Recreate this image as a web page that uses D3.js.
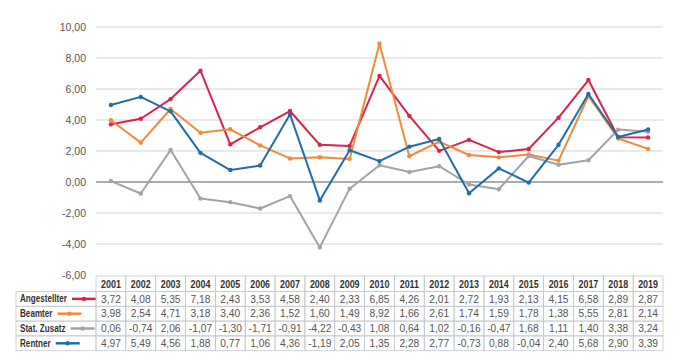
<!DOCTYPE html>
<html><head><meta charset="utf-8">
<script src="https://cdn.jsdelivr.net/npm/d3@7"></script>
<style>body{margin:0;background:#fff}</style>
</head><body><svg id="c" width="700" height="364"></svg>
<script>
const years = ["2001","2002","2003","2004","2005","2006","2007","2008","2009","2010","2011","2012","2013","2014","2015","2016","2017","2018","2019"];
const angestellter = [3.72,4.08,5.35,7.18,2.43,3.53,4.58,2.40,2.33,6.85,4.26,2.01,2.72,1.93,2.13,4.15,6.58,2.89,2.87];
const beamter = [3.98,2.54,4.71,3.18,3.40,2.36,1.52,1.60,1.49,8.92,1.66,2.61,1.74,1.59,1.78,1.38,5.55,2.81,2.14];
const statZusatz = [0.06,-0.74,2.06,-1.07,-1.30,-1.71,-0.91,-4.22,-0.43,1.08,0.64,1.02,-0.16,-0.47,1.68,1.11,1.40,3.38,3.24];
const rentner = [4.97,5.49,4.56,1.88,0.77,1.06,4.36,-1.19,2.05,1.35,2.28,2.77,-0.73,0.88,-0.04,2.40,5.68,2.90,3.39];
const seriesNames = ["Angestellter","Beamter","Stat. Zusatz","Rentner"];
const seriesColors = ["#d8234a","#f08a3a","#9fa4ab","#1f6ea8"];
const yTicks = [-6,-4,-2,0,2,4,6,8,10];

const series = [angestellter, beamter, statZusatz, rentner].map((v,i)=>({name:seriesNames[i], color:seriesColors[i], values:v}));
const svg = d3.select("#c");
const FONT = "'Liberation Sans', Arial, sans-serif";
const fmt = v => d3.format(".2f")(v).replace(".", ",").replace("−","-");
const left = 96, right = 663;
const x = d3.scaleBand().domain(years).range([left, right]);
const y = d3.scaleLinear().domain([-6,10]).range([275, 27]);

// gridlines
svg.append("g").selectAll("line").data(yTicks.filter(d=>d!==-6)).join("line")
  .attr("x1", left).attr("x2", right)
  .attr("y1", d=>y(d)).attr("y2", d=>y(d))
  .attr("stroke", d=> d===0 ? "#8c9096" : "#cfd3d8").attr("stroke-width", d=>d===0?1.3:1.2);

// y axis labels
const yAxis = d3.axisLeft(y).tickValues(yTicks).tickFormat(fmt).tickSize(0).tickPadding(0);
const ga = svg.append("g").attr("transform","translate(86,0)").call(yAxis);
ga.select(".domain").remove();
ga.selectAll("text").attr("font-family",FONT).attr("font-size",10.5).attr("fill","#555");

// lines
const line = d3.line().x((d,i)=>x(years[i])+x.bandwidth()/2).y(d=>y(d));
series.forEach(s=>{
  svg.append("path").attr("d", line(s.values)).attr("fill","none").attr("stroke", s.color).attr("stroke-width",2).attr("stroke-linejoin","round");
  svg.append("g").selectAll("circle").data(s.values).join("circle")
    .attr("cx",(d,i)=>x(years[i])+x.bandwidth()/2).attr("cy", d=>y(d)).attr("r",2.2).attr("fill", s.color);
});

// scaled text helper
function stext(g, tx, ty, str, opts){
  const t = g.append("text").attr("transform", `translate(${tx},${ty}) scale(${opts.sx},1)`)
    .attr("text-anchor", opts.anchor||"start").attr("font-family",FONT)
    .attr("font-weight", opts.bold?"bold":"normal").attr("font-size", opts.size).attr("fill", opts.fill).text(str);
  return t;
}

// table
const tTop = 276, hH = 15.5, rH = 14.8, labL = 16;
const tb = svg.append("g");
const border = "#c4c8cc";
years.forEach(yr=>{
  tb.append("rect").attr("x", x(yr)).attr("y", tTop).attr("width", x.bandwidth()).attr("height", hH)
    .attr("fill","none").attr("stroke",border).attr("stroke-width",0.8);
  stext(tb, x(yr)+x.bandwidth()/2, tTop+11.5, yr, {sx:0.85, anchor:"middle", bold:true, size:10.5, fill:"#333"});
});
series.forEach((s,r)=>{
  const ry = tTop + hH + r*rH;
  tb.append("rect").attr("x", labL).attr("y", ry).attr("width", left-labL).attr("height", rH)
    .attr("fill","none").attr("stroke",border).attr("stroke-width",0.8);
  const sx = 0.74;
  const t = stext(tb, labL+4, ry+10.8, s.name, {sx, bold:true, size:11, fill:"#333"});
  const w = t.node().getComputedTextLength()*sx;
  const lx = labL+4+w+5;
  tb.append("line").attr("x1", lx).attr("x2", lx+24).attr("y1", ry+rH/2).attr("y2", ry+rH/2).attr("stroke", s.color).attr("stroke-width",2.5);
  tb.append("circle").attr("cx", lx+12).attr("cy", ry+rH/2).attr("r",2.2).attr("fill", s.color);
  s.values.forEach((v,i)=>{
    tb.append("rect").attr("x", x(years[i])).attr("y", ry).attr("width", x.bandwidth()).attr("height", rH)
      .attr("fill","none").attr("stroke",border).attr("stroke-width",0.8);
    stext(tb, x(years[i])+x.bandwidth()/2, ry+11, fmt(v), {sx:0.93, anchor:"middle", size:11, fill:"#555"});
  });
});
</script></body></html>
